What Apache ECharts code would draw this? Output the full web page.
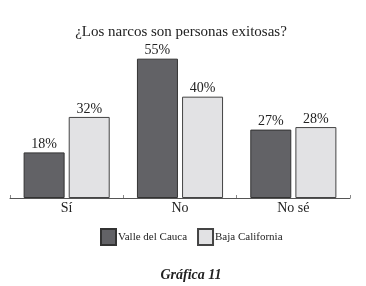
<!DOCTYPE html>
<html>
<head>
<meta charset="utf-8">
<script src="https://cdn.jsdelivr.net/npm/echarts@6/dist/echarts.min.js"></script>
<style>
  html, body { margin: 0; padding: 0; background: #fff; }
  #chart { width: 366px; height: 286px; }
</style>
</head>
<body>
<div id="chart"></div>
<script>
const categories = ['Sí', 'No', 'No sé']
const valleDelCauca = [18, 55, 27]
const bajaCalifornia = [32, 40, 28]

const font = '"Liberation Serif", "DejaVu Serif", serif'
const chart = echarts.init(document.getElementById('chart'))

const labelStyle = {
  show: true,
  position: 'top',
  distance: 1,
  formatter: '{c}%',
  color: '#222',
  fontFamily: font,
  fontSize: 14
}

chart.setOption({
  animation: false,
  title: [
    {
      text: '¿Los narcos son personas exitosas?',
      left: 176,
      top: 20,
      textAlign: 'center',
      textStyle: { fontFamily: font, fontSize: 15, fontWeight: 'normal', color: '#222' }
    },
    {
      text: 'Gráfica 11',
      left: 186,
      top: 263,
      textAlign: 'center',
      textStyle: { fontFamily: font, fontSize: 14, fontWeight: 'bold', fontStyle: 'italic', color: '#222' }
    }
  ],
  legend: {
    top: 228,
    left: 100,
    padding: 0,
    icon: 'rect',
    itemWidth: 15,
    itemHeight: 16,
    itemGap: 10,
    textStyle: { fontFamily: font, fontSize: 11, color: '#222', padding: [0, 0, 0, -3] },
    data: ['Valle del Cauca', 'Baja California']
  },
  grid: { left: 10, right: 16, top: 46, bottom: 88 },
  xAxis: {
    type: 'category',
    data: categories,
    axisLine: { lineStyle: { color: '#555', width: 1 } },
    axisTick: { show: true, inside: true, length: 3, lineStyle: { color: '#888' } },
    axisLabel: { color: '#222', fontFamily: font, fontSize: 14, margin: 3 }
  },
  yAxis: {
    type: 'value',
    min: 0,
    max: 60,
    show: false
  },
  series: [
    {
      name: 'Valle del Cauca',
      type: 'bar',
      data: valleDelCauca,
      barWidth: 41,
      barGap: '10%',
      itemStyle: { color: '#626266', borderColor: '#333', borderWidth: 1 },
      label: labelStyle
    },
    {
      name: 'Baja California',
      type: 'bar',
      data: bajaCalifornia,
      barWidth: 41,
      barGap: '10%',
      itemStyle: { color: '#e2e2e4', borderColor: '#444', borderWidth: 1 },
      label: labelStyle
    }
  ]
})
</script>
</body>
</html>
